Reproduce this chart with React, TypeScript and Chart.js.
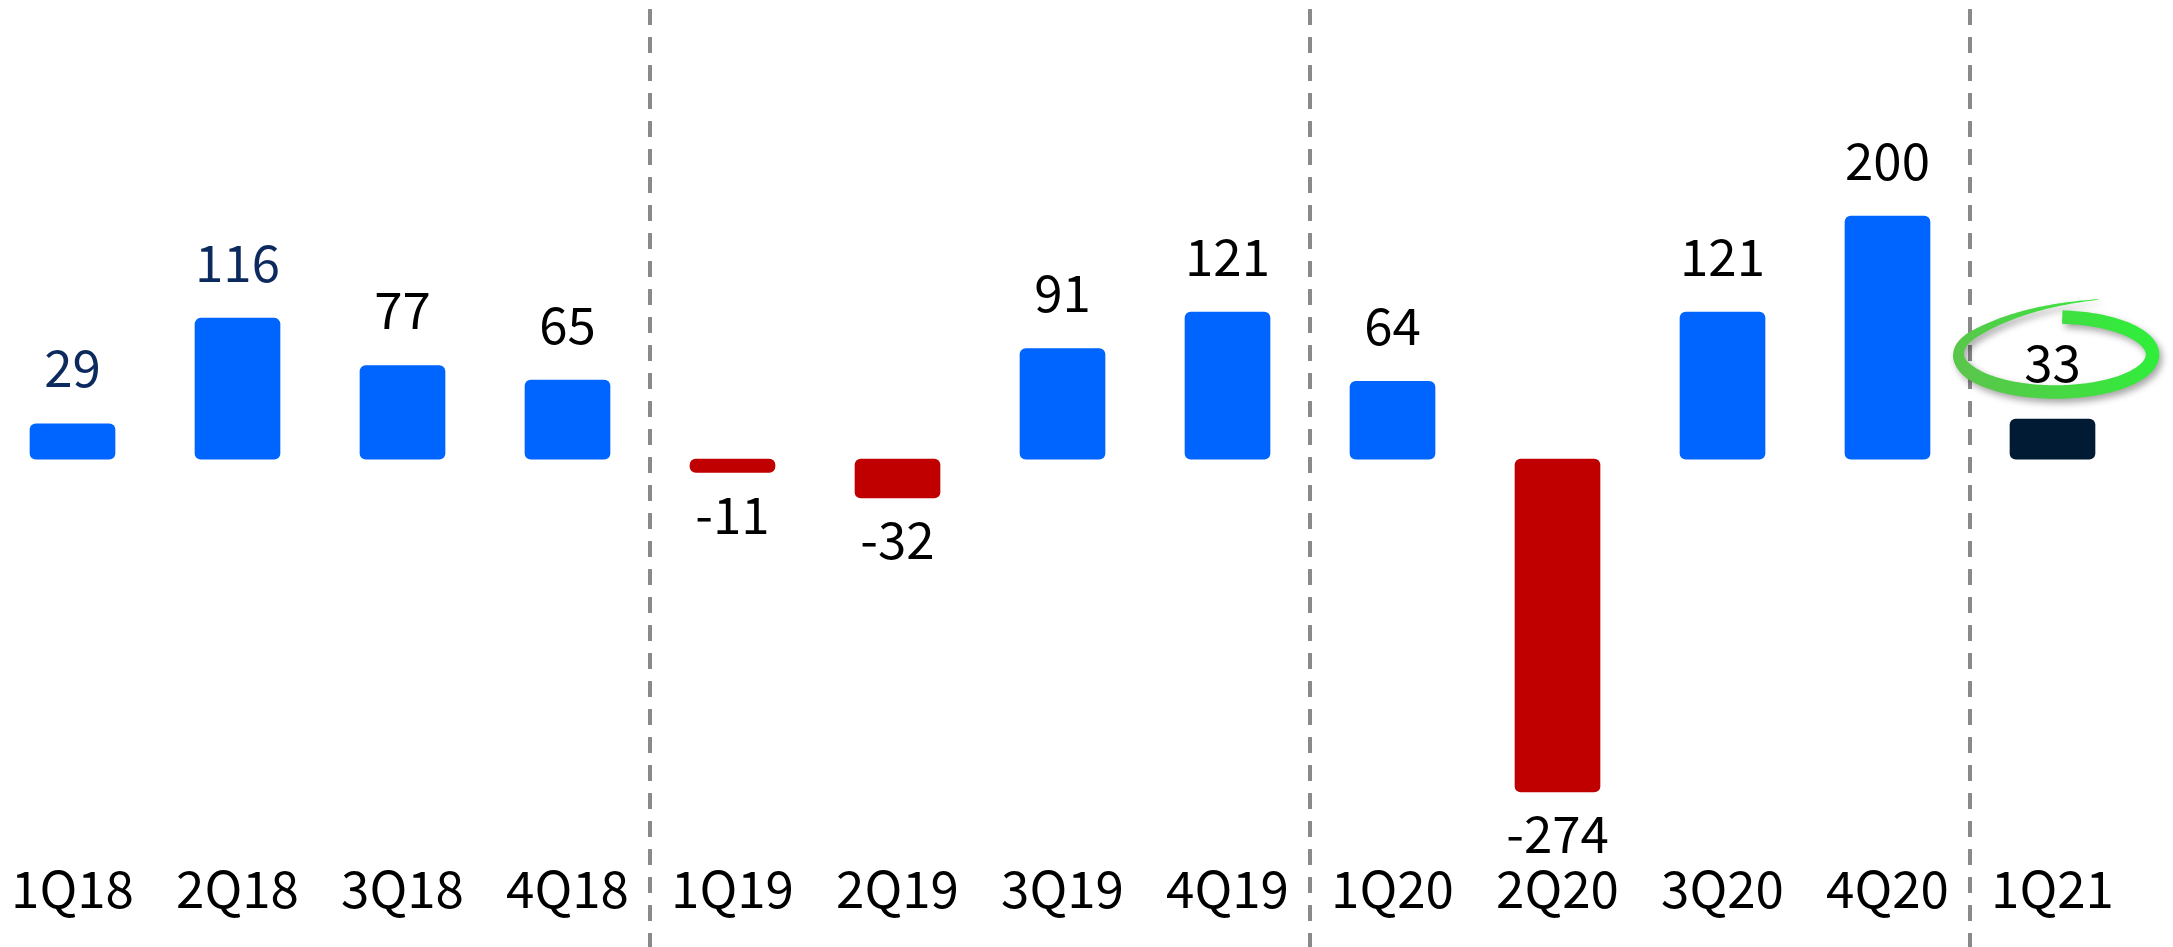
import React, { useEffect, useRef } from 'react';
import { Chart, registerables } from 'chart.js';

Chart.register(...registerables);

const quarters = ['1Q18', '2Q18', '3Q18', '4Q18', '1Q19', '2Q19', '3Q19', '4Q19', '1Q20', '2Q20', '3Q20', '4Q20', '1Q21'];
const values = [29, 116, 77, 65, -11, -32, 91, 121, 64, -274, 121, 200, 33];
const highlightIndex = 12;
const navyLabelIndices = [0, 1];
const dividerAfter = [3, 7, 11];

const FONT = '"Noto Sans CJK SC", "Noto Sans", sans-serif';
const BLUE = '#0064ff';
const RED = '#c00000';
const DARK = '#001b33';

function drawHighlight(ctx: CanvasRenderingContext2D, cx: number, cy: number) {
  const rx = 97, ry = 37.5;
  const center: [number, number][] = [];
  const widths: number[] = [];
  const th0 = (-86 * Math.PI) / 180;
  const thA = (214 * Math.PI) / 180;
  const N = 180;
  for (let i = 0; i <= N; i++) {
    const th = th0 + ((thA - th0) * i) / N;
    center.push([cx + rx * Math.cos(th), cy + ry * Math.sin(th)]);
    const deg = -86 + (300 * i) / N;
    let w = 13.5;
    if (deg > 150) w = 13.5 - ((deg - 150) / 64) * 5.5;
    widths.push(w);
  }
  const p0 = center[center.length - 1];
  let tx = -rx * Math.sin(thA), ty = ry * Math.cos(thA);
  const tl = Math.hypot(tx, ty);
  tx /= tl; ty /= tl;
  const end: [number, number] = [cx + 43, cy - 55];
  const ctrl: [number, number] = [p0[0] + tx * 55, p0[1] + ty * 55];
  const M = 60;
  for (let i = 1; i <= M; i++) {
    const t = i / M;
    const x = (1 - t) * (1 - t) * p0[0] + 2 * (1 - t) * t * ctrl[0] + t * t * end[0];
    const y = (1 - t) * (1 - t) * p0[1] + 2 * (1 - t) * t * ctrl[1] + t * t * end[1];
    center.push([x, y]);
    widths.push(8 * (1 - t) + 0.6 * t);
  }
  const left: [number, number][] = [];
  const right: [number, number][] = [];
  for (let i = 0; i < center.length; i++) {
    const a = center[Math.max(0, i - 1)];
    const b = center[Math.min(center.length - 1, i + 1)];
    let dx = b[0] - a[0], dy = b[1] - a[1];
    const l = Math.hypot(dx, dy) || 1;
    dx /= l; dy /= l;
    const nx = -dy, ny = dx;
    const h = widths[i] / 2;
    left.push([center[i][0] + nx * h, center[i][1] + ny * h]);
    right.push([center[i][0] - nx * h, center[i][1] - ny * h]);
  }
  ctx.save();
  ctx.shadowColor = 'rgba(0,0,0,0.35)';
  ctx.shadowBlur = 7;
  ctx.shadowOffsetX = 3;
  ctx.shadowOffsetY = 4;
  const grad = ctx.createLinearGradient(cx - rx, cy + ry, cx + rx, cy - ry);
  grad.addColorStop(0, '#5cc44c');
  grad.addColorStop(1, '#2ef03a');
  ctx.fillStyle = grad;
  ctx.beginPath();
  ctx.moveTo(left[0][0], left[0][1]);
  for (let i = 1; i < left.length; i++) ctx.lineTo(left[i][0], left[i][1]);
  for (let i = right.length - 1; i >= 0; i--) ctx.lineTo(right[i][0], right[i][1]);
  ctx.closePath();
  ctx.fill();
  ctx.restore();
}

const dividerPlugin = {
  id: 'dividers',
  beforeDatasetsDraw(chart: any) {
    const { ctx } = chart;
    const xs = chart.scales.x;
    ctx.save();
    ctx.strokeStyle = '#8a8a8a';
    ctx.lineWidth = 4;
    ctx.setLineDash([16, 12]);
    ctx.lineDashOffset = 19;
    dividerAfter.forEach((i) => {
      const x = Math.round((xs.getPixelForValue(i) + xs.getPixelForValue(i + 1)) / 2);
      ctx.beginPath();
      ctx.moveTo(x, 0);
      ctx.lineTo(x, chart.height);
      ctx.stroke();
    });
    ctx.restore();
  },
};

const labelPlugin = {
  id: 'valueLabels',
  afterDatasetsDraw(chart: any) {
    const { ctx } = chart;
    const meta = chart.getDatasetMeta(0);
    ctx.save();
    ctx.font = `51px ${FONT}`;
    ctx.textAlign = 'center';
    ctx.textBaseline = 'middle';
    meta.data.forEach((bar: any, i: number) => {
      const v = values[i];
      ctx.fillStyle = navyLabelIndices.includes(i) ? '#0c2a5e' : '#000000';
      const cy = v >= 0 ? bar.y - 56 : bar.y + 42;
      ctx.fillText(String(v), bar.x, cy);
      if (i === highlightIndex) {
        drawHighlight(ctx, bar.x + 3, cy - 8.5);
      }
    });
    ctx.restore();
  },
};

export default function App() {
  const ref = useRef<HTMLCanvasElement>(null);
  useEffect(() => {
    document.body.style.margin = '0';
    const colors = values.map((v, i) => (i === highlightIndex ? DARK : v < 0 ? RED : BLUE));
    const chart = new Chart(ref.current as HTMLCanvasElement, {
      type: 'bar',
      data: {
        labels: quarters,
        datasets: [
          {
            data: values,
            backgroundColor: colors,
            borderWidth: 0,
            borderRadius: 6,
            borderSkipped: false,
            barThickness: 85,
          },
        ],
      },
      options: {
        animation: false,
        responsive: false,
        maintainAspectRatio: false,
        layout: { padding: { top: 0, bottom: 24, left: 0, right: 38 } },
        plugins: { legend: { display: false }, tooltip: { enabled: false } },
        scales: {
          x: {
            grid: { display: false, drawTicks: false },
            border: { display: false },
            ticks: {
              color: '#000',
              font: { family: FONT, size: 51 },
              padding: 4,
              maxRotation: 0,
              autoSkip: false,
            },
          },
          y: {
            display: false,
            min: -325,
            max: 378,
          },
        },
      },
      plugins: [dividerPlugin, labelPlugin],
    });
    return () => chart.destroy();
  }, []);
  return (
    <div style={{ position: 'fixed', left: 0, top: 0, width: 2173, height: 947, overflow: 'hidden', background: '#fff' }}>
      <canvas ref={ref} width={2183} height={947} style={{ position: 'absolute', left: -10, top: 0 }} />
    </div>
  );
}
